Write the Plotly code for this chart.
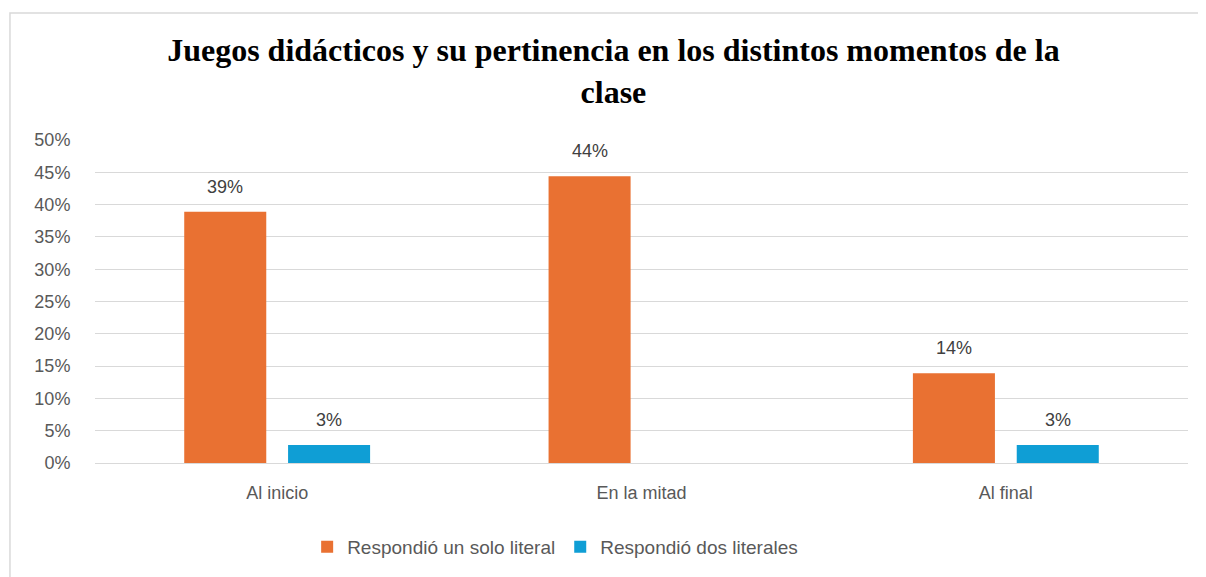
import plotly.graph_objects as go

CATEGORIES = ["Al inicio", "En la mitad", "Al final"]
SERIES_NAMES = ["Respondió un solo literal", "Respondió dos literales"]
UN_SOLO = [0.389, 0.444, 0.139]
DOS = [0.028, None, 0.028]
Y_TICKS = [i / 100 for i in range(0, 55, 5)]

COLORS = ["#E97132", "#0F9ED5"]
TICK_FONT = dict(family="Liberation Sans, Arial, sans-serif", size=18, color="#595959")

fig = go.Figure()
for name, vals, color in zip(SERIES_NAMES, [UN_SOLO, DOS], COLORS):
    fig.add_trace(go.Bar(
        name=name,
        x=CATEGORIES,
        y=vals,
        marker=dict(color=color, line=dict(width=0)),
        hoverinfo="skip",
    ))

# data labels above each bar (Excel leaves a larger gap than plotly's "outside")
for i, (vals, shift) in enumerate([(UN_SOLO, -52), (DOS, 52)]):
    for cat, v in zip(CATEGORIES, vals):
        if v is None:
            continue
        fig.add_annotation(
            x=cat, y=v, text=f"{round(v * 100):.0f}%",
            xshift=shift, yshift=13, yanchor="bottom", showarrow=False,
            font=dict(family="Liberation Sans, Arial, sans-serif", size=18, color="#404040"),
        )

fig.add_shape(
    type="rect", xref="paper", yref="paper",
    x0=-0.0778, x1=1.0146, y0=-0.45, y1=1.393,
    line=dict(color="#D9D9D9", width=1.5), layer="below",
)

fig.update_layout(
    width=1206,
    height=577,
    margin=dict(l=87, r=26, t=132, b=122),
    paper_bgcolor="white",
    plot_bgcolor="white",
    barmode="group",
    bargap=0.43,
    bargroupgap=0.21,
    title=dict(
        text="<b>Juegos didácticos y su pertinencia en los distintos momentos de la<br>clase</b>",
        font=dict(family="Liberation Serif, Times New Roman, serif", size=32, color="black"),
        x=0.502, xanchor="center", y=0.908, yanchor="top", yref="container",
    ),
    legend=dict(
        orientation="h", x=0.421, xanchor="center", y=-0.26, yanchor="middle",
        font=dict(family="Liberation Sans, Arial, sans-serif", size=19, color="#595959"),
        itemclick=False, itemdoubleclick=False,
    ),
    showlegend=True,
)

fig.update_yaxes(
    range=[0, 0.5],
    tickvals=Y_TICKS,
    tickformat=".0%",
    tickfont=TICK_FONT,
    showgrid=True,
    gridcolor="#D9D9D9",
    gridwidth=1.3,
    zeroline=False,
    showline=False,
    ticks="outside",
    ticklen=20,
    tickcolor="rgba(0,0,0,0)",
)
fig.update_xaxes(
    tickfont=TICK_FONT,
    showline=True,
    linecolor="#D9D9D9",
    linewidth=1.3,
    ticks="outside",
    ticklen=13,
    tickcolor="rgba(0,0,0,0)",
)

fig.write_html("out.html")
